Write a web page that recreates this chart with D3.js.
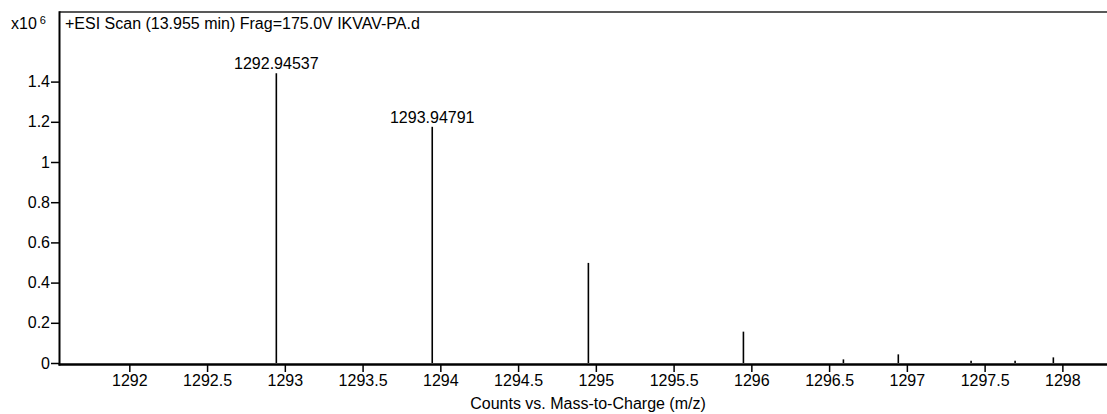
<!DOCTYPE html>
<html>
<head>
<meta charset="utf-8">
<script src="https://cdn.jsdelivr.net/npm/d3@7"></script>
<style>
  body { margin: 0; background: #fff; }
  svg text { font-family: "Liberation Sans", Arial, sans-serif; fill: #000; }
</style>
</head>
<body>
<div class="canvas"></div>
<script>
// peak list (m/z, counts x10^6)
const mzValues = [1292.94537, 1293.94791, 1294.952, 1295.949, 1296.592, 1296.945, 1297.413, 1297.696, 1297.942];
const countValues = [1.441, 1.175, 0.498, 0.156, 0.018, 0.043, 0.011, 0.011, 0.028];
const peakLabels = ['1292.94537', '1293.94791', '', '', '', '', '', '', ''];

const xTicks = [1292, 1292.5, 1293, 1293.5, 1294, 1294.5, 1295, 1295.5, 1296, 1296.5, 1297, 1297.5, 1298];
const yTicks = [0, 0.2, 0.4, 0.6, 0.8, 1, 1.2, 1.4];
const yTickLabels = ['0', '0.2', '0.4', '0.6', '0.8', '1', '1.2', '1.4'];

const title = '+ESI Scan (13.955 min) Frag=175.0V IKVAV-PA.d';
const xTitle = 'Counts vs. Mass-to-Charge (m/z)';

const width = 1107, height = 414;

const svg = d3.select('.canvas')
    .append('svg')
    .attr('width', width)
    .attr('height', height);

// plot frame
const frame = {left: 59.5, top: 12, right: 1107, bottom: 364.5};

// scales
const x = d3.scaleLinear()
    .domain([1291.551, 1298.287])
    .range([frame.left, frame.right]);

const y = d3.scaleLinear()
    .domain([0, 1.4])
    .range([363, 81.6]);

// frame lines
svg.append('line')
    .attr('x1', frame.left).attr('x2', frame.right)
    .attr('y1', frame.top).attr('y2', frame.top)
    .attr('stroke', '#222').attr('stroke-width', 1.5);

svg.append('line')
    .attr('x1', frame.left).attr('x2', frame.left)
    .attr('y1', frame.top - 0.75).attr('y2', frame.bottom + 1)
    .attr('stroke', '#000').attr('stroke-width', 2);

// axes
const xAxis = d3.axisBottom(x)
    .tickValues(xTicks)
    .tickFormat(d => String(d))
    .tickSize(7)
    .tickPadding(3);

const yAxis = d3.axisLeft(y)
    .tickValues(yTicks)
    .tickFormat((d, i) => yTickLabels[i])
    .tickSize(8)
    .tickPadding(1);

const xAxisGroup = svg.append('g')
    .attr('transform', `translate(0, ${frame.bottom + 0.5})`)
    .call(xAxis);

const yAxisGroup = svg.append('g')
    .attr('transform', `translate(${frame.left - 0.5}, 0)`)
    .call(yAxis);

[xAxisGroup, yAxisGroup].forEach(g => {
    g.select('.domain').remove();
    g.selectAll('line').attr('stroke', '#000').attr('stroke-width', 1.5);
    g.selectAll('text')
        .attr('font-size', 16)
        .attr('font-family', '"Liberation Sans", Arial, sans-serif')
        .attr('fill', '#000');
});

// peaks
svg.append('g')
    .selectAll('line')
    .data(mzValues)
    .enter()
    .append('line')
    .attr('x1', d => x(d))
    .attr('x2', d => x(d))
    .attr('y1', (d, i) => y(countValues[i]))
    .attr('y2', y(0))
    .attr('stroke', '#000')
    .attr('stroke-width', 1.6);

// thick baseline axis (drawn over peak ends)
svg.append('line')
    .attr('x1', frame.left - 1).attr('x2', frame.right)
    .attr('y1', frame.bottom).attr('y2', frame.bottom)
    .attr('stroke', '#000').attr('stroke-width', 2.5);

// peak labels
svg.append('g')
    .selectAll('text')
    .data(mzValues)
    .enter()
    .append('text')
    .attr('x', d => x(d))
    .attr('y', (d, i) => y(countValues[i]) - 4)
    .attr('text-anchor', 'middle')
    .attr('font-size', 16)
    .text((d, i) => peakLabels[i]);

// header texts
svg.append('text')
    .attr('x', 65).attr('y', 28.5)
    .attr('font-size', 16)
    .text(title);

const mult = svg.append('text')
    .attr('x', 11).attr('y', 28.5)
    .attr('font-size', 16)
    .text('x10');
mult.append('tspan')
    .attr('dx', 3).attr('dy', -5)
    .attr('font-size', 11)
    .text('6');

// x axis title
svg.append('text')
    .attr('x', 588).attr('y', 409)
    .attr('text-anchor', 'middle')
    .attr('font-size', 16)
    .text(xTitle);
</script>
</body>
</html>
